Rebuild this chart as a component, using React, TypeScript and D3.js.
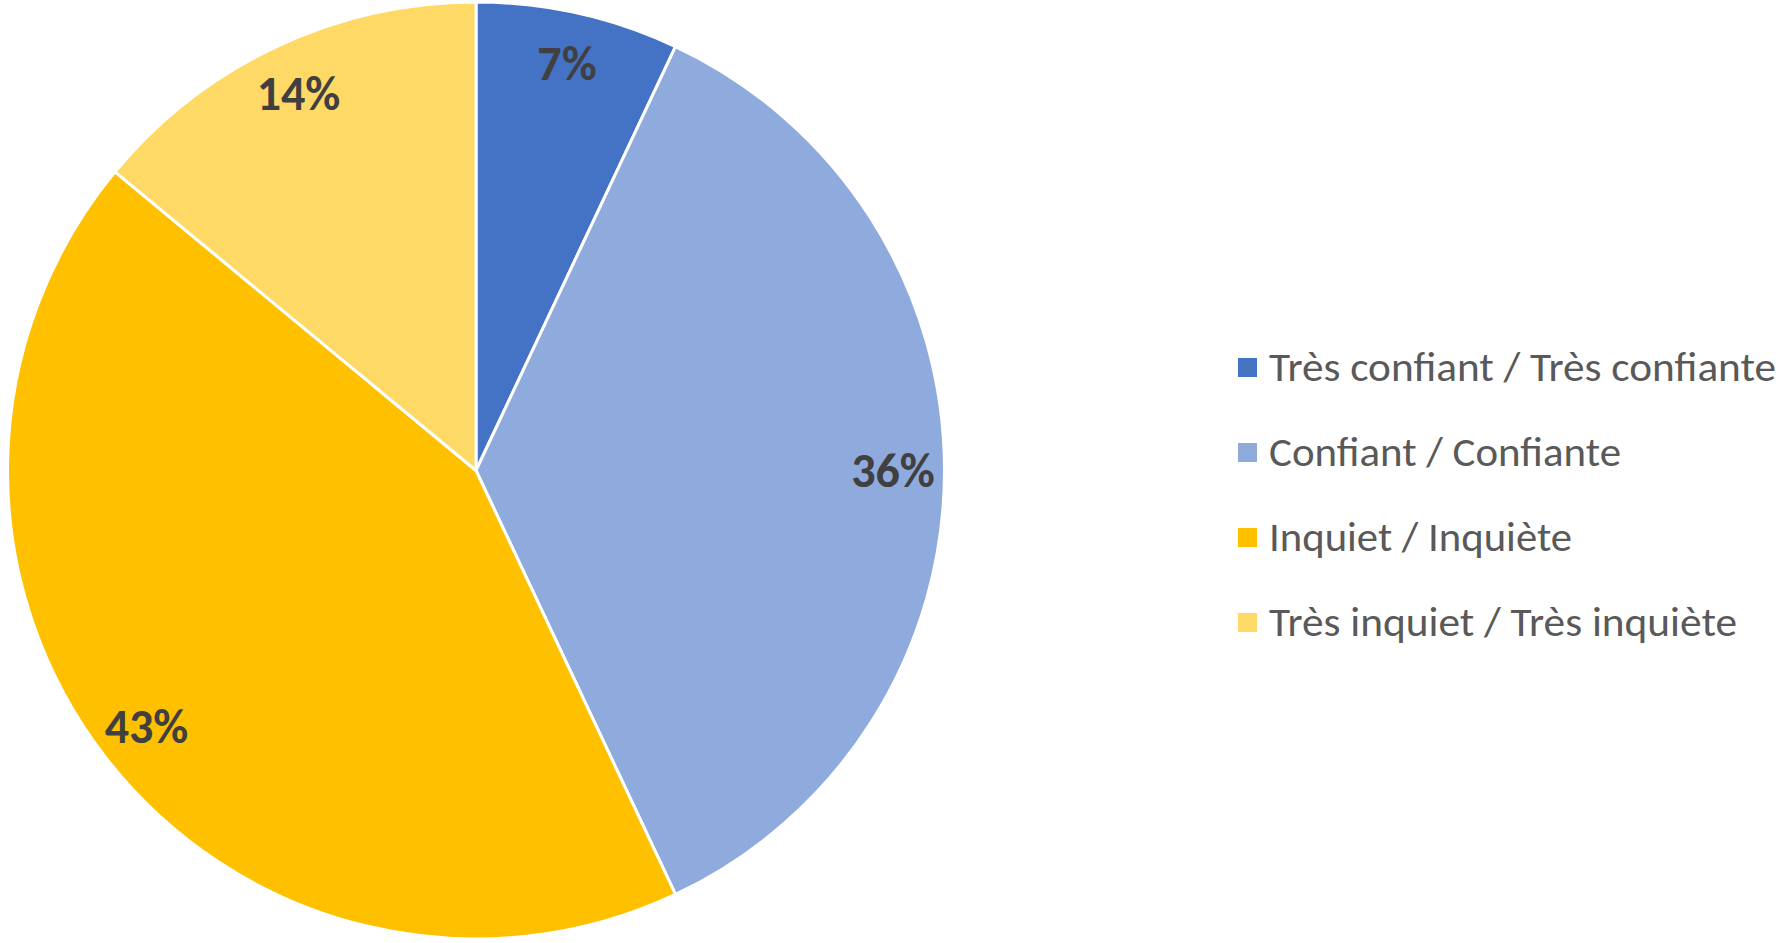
import React, { useEffect, useRef } from "react";
import * as d3 from "d3";

const categories = [
  "Très confiant / Très confiante",
  "Confiant / Confiante",
  "Inquiet / Inquiète",
  "Très inquiet / Très inquiète",
];
const values = [7, 36, 43, 14];
const colors = ["#4472C4", "#8FAADC", "#FFC000", "#FFD966"];
const legendWidths = [507, 352, 303, 468];

const W = 1782;
const H = 943;

const App = () => {
  const legendRef = useRef<SVGGElement>(null);

  const cx = 476;
  const cy = 470.5;
  const radius = 468.5;

  const pie = d3
    .pie<number>()
    .sort(null)
    .value((d) => d)
    .startAngle(0)
    .endAngle(2 * Math.PI);
  const arcs = pie(values);
  const arc = d3.arc<d3.PieArcDatum<number>>().innerRadius(0).outerRadius(radius);
  const labelArc = d3
    .arc<d3.PieArcDatum<number>>()
    .innerRadius(417)
    .outerRadius(417);

  const total = d3.sum(values);

  // legend rows
  const legendY = d3
    .scalePoint<number>()
    .domain(d3.range(categories.length))
    .range([367.5, 622.5]);

  useEffect(() => {
    // squeeze legend labels to the reference width (narrow font not available)
    const g = d3.select(legendRef.current);
    g.selectAll<SVGTextElement, unknown>("text").each(function (_, i) {
      this.setAttribute("textLength", String(legendWidths[i]));
      this.setAttribute("lengthAdjust", "spacingAndGlyphs");
    });
  }, []);

  return (
    <svg
      width={W}
      height={H}
      style={{ position: "absolute", left: 0, top: 0, display: "block" }}
    >
      <rect width={W} height={H} fill="#fff" />
      <g transform={`translate(${cx},${cy})`}>
        {arcs.map((a, i) => (
          <path
            key={i}
            d={arc(a) || ""}
            fill={colors[i]}
            stroke="#fff"
            strokeWidth={3}
            strokeLinejoin="round"
          />
        ))}
        {arcs.map((a, i) => {
          const [x, y] = labelArc.centroid(a);
          return (
            <text
              key={"l" + i}
              x={x}
              y={y}
              textAnchor="middle"
              dominantBaseline="central"
              fontFamily="Carlito, Calibri, Lato, sans-serif"
              fontWeight="bold"
              fontSize={48}
              fill="#404040"
            >
              {Math.round((a.data / total) * 100)}%
            </text>
          );
        })}
      </g>
      <g ref={legendRef}>
        {categories.map((c, i) => (
          <g key={c} transform={`translate(1238,${legendY(i)})`}>
            <rect x={0} y={-9.5} width={19} height={19} fill={colors[i]} />
            <text
              x={31}
              y={13.5}
              fontFamily="Carlito, Calibri, Lato, sans-serif"
              fontSize={40}
              fill="#595959"
            >
              {c}
            </text>
          </g>
        ))}
      </g>
    </svg>
  );
};

export default App;
